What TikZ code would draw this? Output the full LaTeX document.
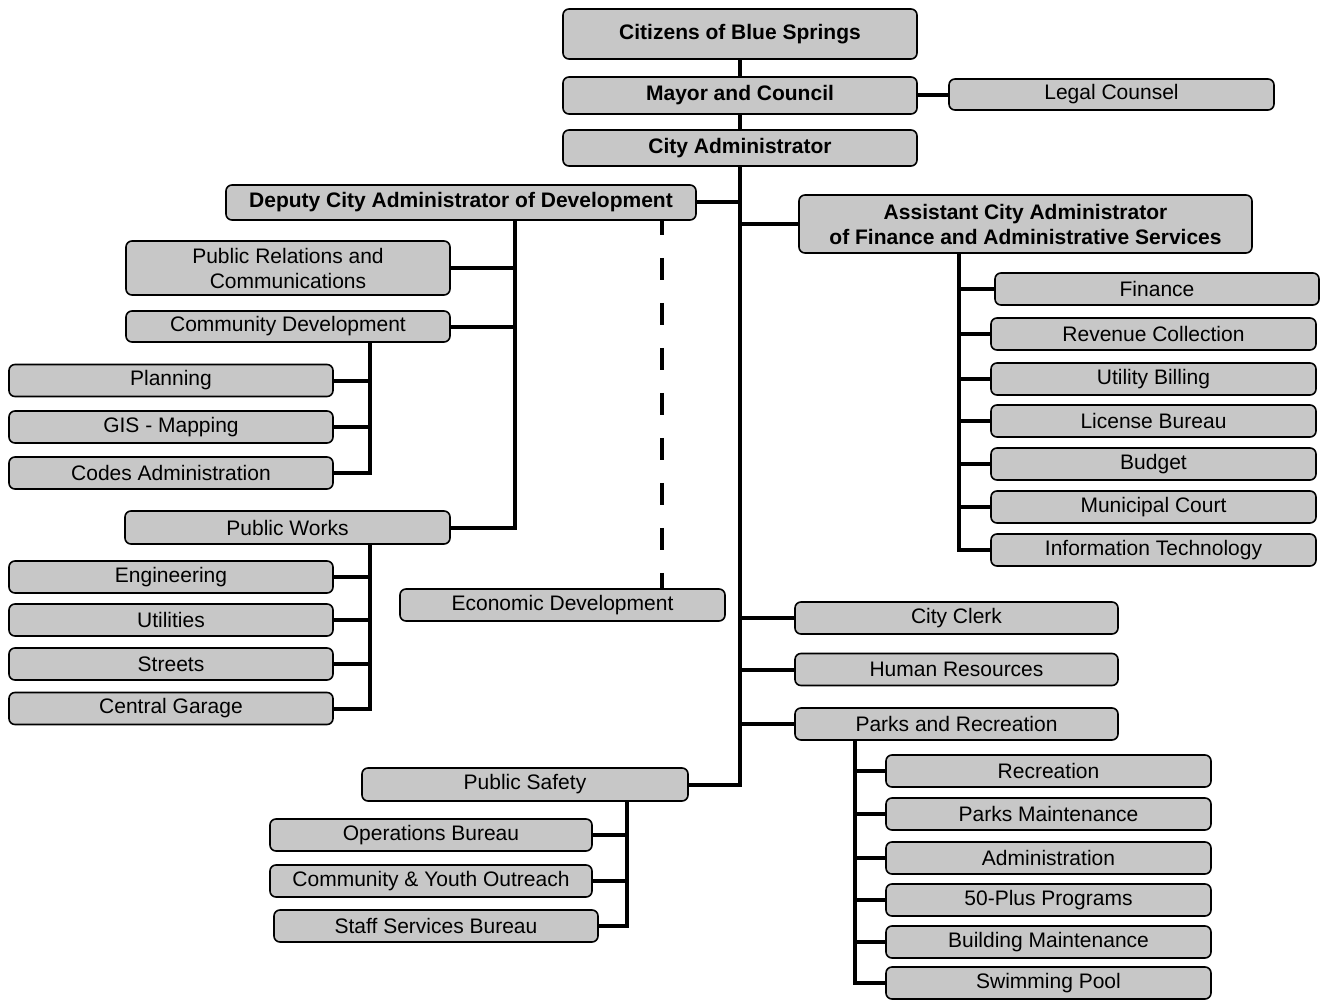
\documentclass[tikz,border=0pt]{standalone}
\usepackage{fontspec}
\setmainfont{Liberation Sans}
\tikzset{
  unit/.style={draw, line width=1.6pt, rounded corners=6pt, fill=black!22,
    inner sep=0pt, align=center, minimum width=324pt, minimum height=32pt,
    font=\fontsize{21}{25}\selectfont},
  head/.style={unit, minimum width=354pt, font=\fontsize{21}{25}\selectfont\bfseries},
  link/.style={line width=4pt},
  dashlink/.style={line width=4pt, dash pattern=on 22pt off 23pt, dash phase=8pt}
}
\begin{document}
\begin{tikzpicture}[x=1pt, y=-1pt, line join=miter]
\useasboundingbox (0,0) rectangle (1324,1000);
% top of the chart
\node[head, minimum height=50pt] (citizens) at (740,34) {Citizens of Blue Springs};
\node[head, minimum height=37pt] (mayor) at (740,95.5) {Mayor and Council};
\node[unit, minimum width=325pt, minimum height=31pt] (legal) at (1111.5,94.5) {Legal Counsel};
\node[head, minimum height=36pt] (admin) at (740,148) {City Administrator};
\node[head, minimum width=470pt, minimum height=35pt] (deputy) at (461,202.5) {Deputy City Administrator of Development};
\node[head, minimum width=453pt, minimum height=58pt] (assistant) at (1025.5,224) {Assistant City Administrator\\of Finance and Administrative Services};
% development
\node[unit, minimum height=54pt] (relations) at (288,268) {Public Relations and\\Communications};
\node[unit, minimum height=31pt] (community) at (288,326.5) {Community Development};
\node[unit, minimum width=325pt, minimum height=33pt] (works) at (287.5,527.5) {Public Works};
\foreach \n/\y/\t in {planning/380.5/Planning, gis/427/GIS - Mapping, codes/473/Codes Administration,
    engineering/577/Engineering, utilities/620/Utilities, streets/664/Streets, garage/708.5/Central Garage}
  \node[unit] (\n) at (171,\y) {\t};
\node[unit, minimum width=325pt] (economic) at (562.5,605) {Economic Development};
% finance
\node[unit] (finance) at (1157,289) {Finance};
\foreach \n/\y/\t in {revenue/334/Revenue Collection, billing/379/Utility Billing, license/421/License Bureau,
    budget/464/Budget, court/507/Municipal Court, technology/550/Information Technology}
  \node[unit, minimum width=325pt] (\n) at (1153.5,\y) {\t};
% direct reports
\foreach \n/\y/\t in {clerk/618/City Clerk, hr/669.5/Human Resources, parks/724/Parks and Recreation}
  \node[unit, minimum width=323pt] (\n) at (956.5,\y) {\t};
\foreach \n/\y/\t in {recreation/771/Recreation, maintenance/814/Parks Maintenance, administration/858/Administration,
    plus/900/50-Plus Programs, building/942/Building Maintenance, pool/983/Swimming Pool}
  \node[unit, minimum width=325pt] (\n) at (1048.5,\y) {\t};
% safety
\node[unit, minimum width=326pt, minimum height=33pt] (safety) at (525,784.5) {Public Safety};
\node[unit, minimum width=322pt] (operations) at (431,835) {Operations Bureau};
\node[unit, minimum width=322pt] (outreach) at (431,881) {Community \& Youth Outreach};
\node[unit] (staff) at (436,926) {Staff Services Bureau};
% buses
\coordinate (devbus) at (515,0);
\coordinate (cdbus) at (370,0);
\coordinate (econbus) at (662,0);
\coordinate (finbus) at (959,0);
\coordinate (parkbus) at (855,0);
\coordinate (safebus) at (627,0);
% connectors
\draw[link] (citizens) -- (mayor) -- (admin);
\draw[link] (admin) |- (safety);
\draw[link] (mayor.east) -- (mayor.east -| legal.west);
\draw[link] (deputy.east) -- (deputy.east -| admin.south);
\draw[link] (assistant.west) -- (assistant.west -| admin.south);
\foreach \n in {clerk,hr,parks} \draw[link] (\n.west) -- (\n.west -| admin.south);
\draw[link] (devbus |- deputy.south) |- (works.east);
\foreach \n in {relations,community} \draw[link] (\n.east) -- (\n.east -| devbus);
\draw[link] (cdbus |- community.south) |- (codes.east);
\foreach \n in {planning,gis} \draw[link] (\n.east) -- (\n.east -| cdbus);
\draw[link] (cdbus |- works.south) |- (garage.east);
\foreach \n in {engineering,utilities,streets} \draw[link] (\n.east) -- (\n.east -| cdbus);
\draw[dashlink] (econbus |- deputy.south) -- (econbus |- economic.north);
\draw[link] (finbus |- assistant.south) |- (technology.west);
\foreach \n in {finance,revenue,billing,license,budget,court} \draw[link] (\n.west) -- (\n.west -| finbus);
\draw[link] (parkbus |- parks.south) |- (pool.west);
\foreach \n in {recreation,maintenance,administration,plus,building} \draw[link] (\n.west) -- (\n.west -| parkbus);
\draw[link] (safebus |- safety.south) |- (staff.east);
\foreach \n in {operations,outreach} \draw[link] (\n.east) -- (\n.east -| safebus);
\end{tikzpicture}
\end{document}
